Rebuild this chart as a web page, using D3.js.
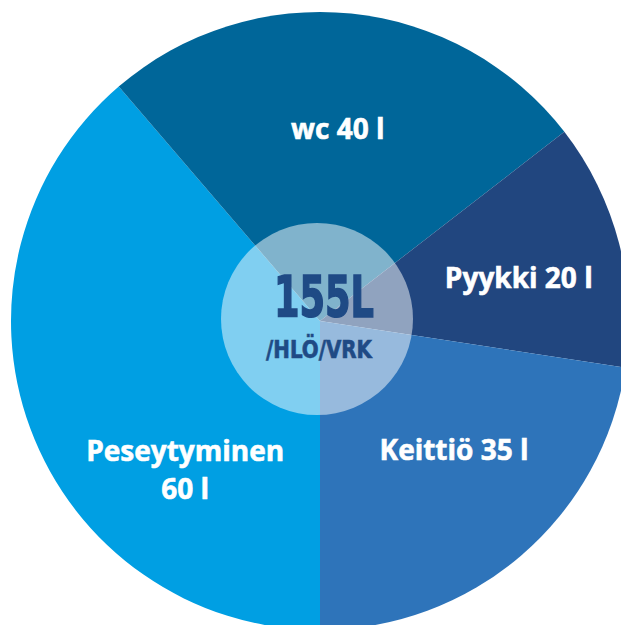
<!DOCTYPE html>
<html>
<head>
<meta charset="utf-8">
<script src="https://cdn.jsdelivr.net/npm/d3@7"></script>
<style>
  body { margin: 0; background: #fff; }
  svg { display: block; }
</style>
</head>
<body>
<div id="container"></div>
<script>
/* DATA */
const categories = ["Peseytyminen", "wc", "Pyykki", "Keittiö"];
const litres = [60, 40, 20, 35];
const colors = ["#009fe3", "#006699", "#21467f", "#2e74ba"];
const totalLabel = "155L";
const unitLabel = "/HLÖ/VRK";

/* CONSTANTS */
const width = 621;
const height = 625;
const cx = 320, cy = 321;
const radius = 309;

const data = categories.map((c, i) => ({ name: c, value: litres[i], color: colors[i] }));

const svg = d3.select("#container").append("svg")
  .attr("width", width)
  .attr("height", height);

const g = svg.append("g")
  .attr("transform", `translate(${cx},${cy})`);

// start at the bottom, go clockwise
const pie = d3.pie()
  .sort(null)
  .value(d => d.value)
  .startAngle(Math.PI)
  .endAngle(Math.PI * 3);

const arc = d3.arc().innerRadius(0).outerRadius(radius);
const labelArc = d3.arc().innerRadius(195).outerRadius(195);

const arcs = pie(data);

g.selectAll("path.slice")
  .data(arcs)
  .join("path")
  .attr("class", "slice")
  .attr("d", arc)
  .attr("fill", d => d.data.color);

// hand nudges so labels sit where the original has them
const nudge = {
  "Peseytyminen": [48, 72],
  "wc": [-2, 2],
  "Pyykki": [10, 6],
  "Keittiö": [7, -19]
};

const labels = g.selectAll("text.lbl")
  .data(arcs)
  .join("text")
  .attr("class", "lbl")
  .attr("transform", d => {
    const [x, y] = labelArc.centroid(d);
    const n = nudge[d.data.name];
    return `translate(${x + n[0]},${y + n[1]})`;
  })
  .attr("text-anchor", "middle")
  .attr("fill", "#fff")
  .attr("stroke", "#fff")
  .attr("stroke-width", 0.6)
  .style("font-family", "'Open Sans', sans-serif")
  .style("font-weight", "bold")
  .style("font-size", "28px");

labels.each(function(d) {
  const t = d3.select(this);
  if (d.data.name === "Peseytyminen") {
    t.append("tspan").attr("x", 0).attr("dy", "0").text(d.data.name);
    t.append("tspan").attr("x", 0).attr("dy", "38").text(`${d.data.value} l`);
  } else {
    t.append("tspan").attr("x", 0).attr("dy", "0.35em").text(`${d.data.name} ${d.data.value} l`);
  }
});

/* CENTER */
svg.append("circle")
  .attr("cx", 317)
  .attr("cy", 319)
  .attr("r", 96)
  .attr("fill", "#fff")
  .attr("fill-opacity", 0.5);

svg.append("text")
  .attr("x", 274)
  .attr("y", 317)
  .attr("textLength", 100)
  .attr("lengthAdjust", "spacingAndGlyphs")
  .attr("fill", "#1f4a85")
  .attr("stroke", "#1f4a85")
  .attr("stroke-width", 1.6)
  .style("font-family", "'DejaVu Sans Condensed', 'DejaVu Sans', sans-serif")
  .style("font-weight", "bold")
  .style("font-size", "57px")
  .text(totalLabel);

svg.append("text")
  .attr("x", 266)
  .attr("y", 358)
  .attr("textLength", 106)
  .attr("lengthAdjust", "spacingAndGlyphs")
  .attr("fill", "#1f4a85")
  .attr("stroke", "#1f4a85")
  .attr("stroke-width", 0.6)
  .style("font-family", "'DejaVu Sans Condensed', 'DejaVu Sans', sans-serif")
  .style("font-weight", "bold")
  .style("font-size", "25px")
  .text(unitLabel);
</script>
</body>
</html>
